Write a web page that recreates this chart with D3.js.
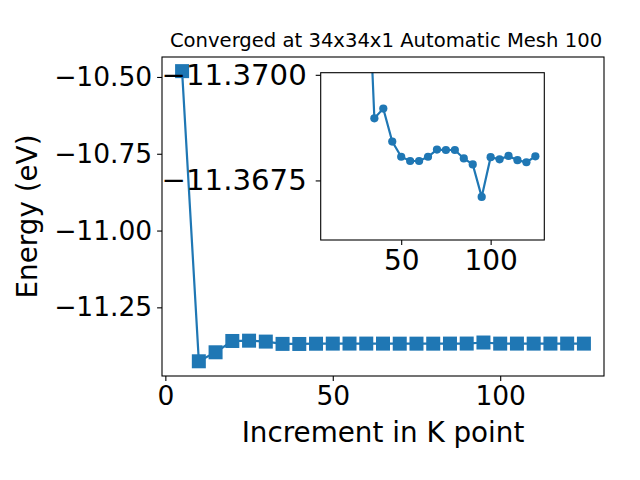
<!DOCTYPE html>
<html>
<head>
<meta charset="utf-8">
<script src="https://cdn.jsdelivr.net/npm/d3@7"></script>
<style>
  body { margin: 0; background: #fff; }
  text { font-family: "DejaVu Sans", sans-serif; fill: #000; }
</style>
</head>
<body>
<div id="chart"></div>
<script>
// k point increments
var kpoints = [5, 10, 15, 20, 25, 30, 35, 40, 45, 50, 55, 60, 65, 70, 75,
  80, 85, 90, 95, 100, 105, 110, 115, 120, 125];

// energies shown in the main panel (eV)
var energy = [-10.481, -11.4256, -11.3963, -11.3595, -11.3585, -11.3615,
  -11.36897, -11.3692, -11.36842, -11.36806, -11.36796, -11.36796, -11.36806,
  -11.36823, -11.36822, -11.36822, -11.36802, -11.36788, -11.3645, -11.36805,
  -11.368, -11.36808, -11.36798, -11.36793, -11.36807];

// energies shown in the zoomed inset, from k = 30 on
var insetEnergy = [-11.3740, -11.36897, -11.3692, -11.36842, -11.36806,
  -11.36796, -11.36796, -11.36806, -11.36823, -11.36822, -11.36822, -11.36802,
  -11.36788, -11.36711, -11.36805, -11.368, -11.36808, -11.36798, -11.36793,
  -11.36807];

var xTicks = [0, 50, 100];
var yTicks = [-10.5, -10.75, -11.0, -11.25];
var insetXTicks = [50, 100];
var insetYTicks = [-11.37, -11.3675];

var svgWidth = 640;
var svgHeight = 480;
var color = "#1f77b4";

// main axes box
var box = { left: 162, top: 57, right: 604, bottom: 376 };
// inset axes box
var ibox = { left: 320.7, top: 72.7, right: 544.3, bottom: 240 };

var svg = d3.select("#chart")
  .append("svg")
  .attr("width", svgWidth)
  .attr("height", svgHeight);

var x = d3.scaleLinear().domain([-1, 131]).range([box.left, box.right]);
var y = d3.scaleLinear().domain([-11.4735, -10.435]).range([box.bottom, box.top]);

// title
svg.append("text")
  .attr("x", (box.left + box.right) / 2 + 3)
  .attr("y", 47)
  .attr("text-anchor", "middle")
  .style("font-size", "19.6px")
  .text("Converged at 34x34x1 Automatic Mesh 100");

function styleAxis(size) {
  return function(g) {
    g.select(".domain").remove();
    g.selectAll(".tick line").attr("stroke", "#000").attr("stroke-width", 1.1);
    g.selectAll(".tick text").style("font-size", size + "px").style("font-family", "DejaVu Sans");
  };
}

// main axes
svg.append("g")
  .attr("transform", `translate(0, ${box.bottom})`)
  .call(d3.axisBottom(x).tickValues(xTicks).tickSize(4.9).tickPadding(4.9).tickFormat(d3.format("d")))
  .call(styleAxis(26.5));

svg.append("g")
  .attr("transform", `translate(${box.left}, 0)`)
  .call(d3.axisLeft(y).tickValues(yTicks).tickSize(4.9).tickPadding(4.9).tickFormat(d3.format(".2f")))
  .call(styleAxis(26.5));

var line = d3.line()
  .x((d, i) => x(kpoints[i]))
  .y(d => y(d));

svg.append("path")
  .datum(energy)
  .attr("fill", "none")
  .attr("stroke", color)
  .attr("stroke-width", 2.2)
  .attr("d", line);

svg.append("g").selectAll("rect")
  .data(energy)
  .enter()
  .append("rect")
  .attr("x", (d, i) => x(kpoints[i]) - 7)
  .attr("y", d => y(d) - 7)
  .attr("width", 14)
  .attr("height", 14)
  .attr("fill", color);

svg.append("rect")
  .attr("x", box.left)
  .attr("y", box.top)
  .attr("width", box.right - box.left)
  .attr("height", box.bottom - box.top)
  .attr("fill", "none")
  .attr("stroke", "#000")
  .attr("stroke-width", 1.1);

// axis labels
svg.append("text")
  .attr("x", (box.left + box.right) / 2)
  .attr("y", 441.5)
  .attr("text-anchor", "middle")
  .style("font-size", "27.8px")
  .text("Increment in K point");

svg.append("text")
  .attr("transform", `translate(37, ${(box.top + box.bottom) / 2}) rotate(-90)`)
  .attr("text-anchor", "middle")
  .style("font-size", "27.8px")
  .text("Energy (eV)");

// inset
var ix = d3.scaleLinear().domain([5, 130]).range([ibox.left, ibox.right]);
var iy = d3.scaleLinear().domain([-11.37005, -11.36609]).range([ibox.top, ibox.bottom]);

svg.append("rect")
  .attr("x", ibox.left)
  .attr("y", ibox.top)
  .attr("width", ibox.right - ibox.left)
  .attr("height", ibox.bottom - ibox.top)
  .attr("fill", "#fff");

svg.append("clipPath")
  .attr("id", "insetClip")
  .append("rect")
  .attr("x", ibox.left)
  .attr("y", ibox.top)
  .attr("width", ibox.right - ibox.left)
  .attr("height", ibox.bottom - ibox.top);

var insetK = kpoints.slice(5);

var insetGroup = svg.append("g").attr("clip-path", "url(#insetClip)");

insetGroup.append("path")
  .datum(insetEnergy)
  .attr("fill", "none")
  .attr("stroke", color)
  .attr("stroke-width", 2.2)
  .attr("d", d3.line().x((d, i) => ix(insetK[i])).y(d => iy(d)));

insetGroup.selectAll("circle")
  .data(insetEnergy)
  .enter()
  .append("circle")
  .attr("cx", (d, i) => ix(insetK[i]))
  .attr("cy", d => iy(d))
  .attr("r", 4.1)
  .attr("fill", color);

svg.append("g")
  .attr("transform", `translate(0, ${ibox.bottom})`)
  .call(d3.axisBottom(ix).tickValues(insetXTicks).tickSize(4.9).tickPadding(5.5).tickFormat(d3.format("d")))
  .call(styleAxis(28));

svg.append("g")
  .attr("transform", `translate(${ibox.left}, 0)`)
  .call(d3.axisLeft(iy).tickValues(insetYTicks).tickSize(5).tickPadding(9).tickFormat(d3.format(".4f")))
  .call(styleAxis(29.2));

svg.append("rect")
  .attr("x", ibox.left)
  .attr("y", ibox.top)
  .attr("width", ibox.right - ibox.left)
  .attr("height", ibox.bottom - ibox.top)
  .attr("fill", "none")
  .attr("stroke", "#000")
  .attr("stroke-width", 1.1);
</script>
</body>
</html>
